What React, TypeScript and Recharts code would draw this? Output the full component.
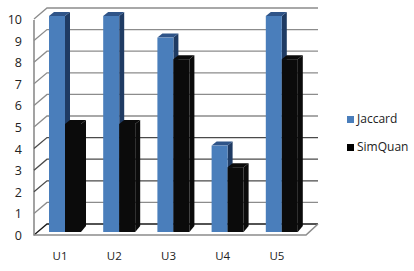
import React from "react";
import { BarChart, Bar, XAxis, YAxis, CartesianGrid, Legend } from "recharts";

const categories = ["U1", "U2", "U3", "U4", "U5"];
const jaccard = [10, 10, 9, 4, 10];
const simQuan = [5, 5, 8, 3, 8];
const yTicks = [0, 1, 2, 3, 4, 5, 6, 7, 8, 9, 10];
const rows = categories.map((name, i) => ({ name, Jaccard: jaccard[i], SimQuan: simQuan[i] }));

const BLUE = "#4a7ebb";
const BLUE_SIDE = "#1f3b63";
const BLUE_TOP = "#2f5488";
const BLACK = "#0b0b0b";
const DX = 5;
const DY = 4;
const LABEL = "'Open Sans', sans-serif";

const bar3d = (front: string, side: string, top: string) => (p: any) => {
  const { x, y, width: w, height: h } = p;
  return (
    <g>
      <path d={`M${x + w} ${y}L${x + w + DX} ${y - DY}V${y + h - DY - 2}L${x + w} ${y + h}Z`} fill={side} />
      <path d={`M${x} ${y}L${x + DX} ${y - DY}H${x + w + DX}L${x + w} ${y}Z`} fill={top} />
      <rect x={x} y={y} width={w} height={h} fill={front} />
    </g>
  );
};

const gridLine = (p: any) => {
  const y = p.y1;
  const isFloor = y > 230;
  const dark = y > 140 && y < 200;
  const stroke = isFloor ? "#1a1a1a" : dark ? "#4a4a4a" : "#8c8c8c";
  return (
    <g key={p.key}>
      <path d={`M34 ${y + 3}L47 ${y - 8}H318`} fill="none" stroke={stroke} strokeWidth={1.3} />
      {isFloor && (
        <path d={`M34 20V${y + 3}H306L318 ${y - 8}`} fill="none" stroke="#8c8c8c" strokeWidth={1.6} />
      )}
    </g>
  );
};

const yTick = (p: any) => (
  <text x={22} y={p.y + 4} dy={4} textAnchor="end" fontSize={12.5} fontFamily={LABEL} fill="#222">
    {p.payload.value}
  </text>
);

const xTick = (p: any) => (
  <text x={p.x - 5} y={260} textAnchor="middle" fontSize={11.5} fontFamily={LABEL} fill="#222">
    {p.payload.value}
  </text>
);

const legendContent = () => (
  <div style={{ fontFamily: LABEL, fontSize: 12, color: "#222", lineHeight: "16px", width: 67 }}>
    {[
      ["Jaccard", BLUE],
      ["SimQuan", "#000"],
    ].map(([name, color], i) => (
      <div key={name} style={{ display: "flex", alignItems: "center", height: 16, marginBottom: i === 0 ? 12 : 0 }}>
        <span style={{ width: 7, height: 7, background: color, marginRight: 3, display: "inline-block" }} />
        <span>{name}</span>
      </div>
    ))}
  </div>
);

export default function App() {
  return (
    <div style={{ position: "absolute", left: 0, top: 0, width: 414, height: 271, background: "#fff" }}>
      <BarChart
        width={414}
        height={271}
        data={rows}
        margin={{ top: 16, right: 38, bottom: 0, left: 0 }}
        barSize={16}
        barGap={0}
      >
        <CartesianGrid vertical={false} horizontal={gridLine} />
        <XAxis dataKey="name" axisLine={false} tickLine={false} tick={xTick} height={39} />
        <YAxis domain={[0, 10]} ticks={yTicks} width={38} axisLine={false} tickLine={false} tick={yTick} interval={0} />
        <Legend
          layout="vertical"
          align="right"
          verticalAlign="middle"
          content={legendContent}
          wrapperStyle={{ left: 347, top: 111, width: 67, right: "auto", bottom: "auto" }}
        />
        <Bar dataKey="Jaccard" isAnimationActive={false} fill={BLUE} shape={bar3d(BLUE, BLUE_SIDE, BLUE_TOP)} />
        <Bar dataKey="SimQuan" isAnimationActive={false} fill={BLACK} shape={bar3d(BLACK, BLACK, BLACK)} />
      </BarChart>
    </div>
  );
}
